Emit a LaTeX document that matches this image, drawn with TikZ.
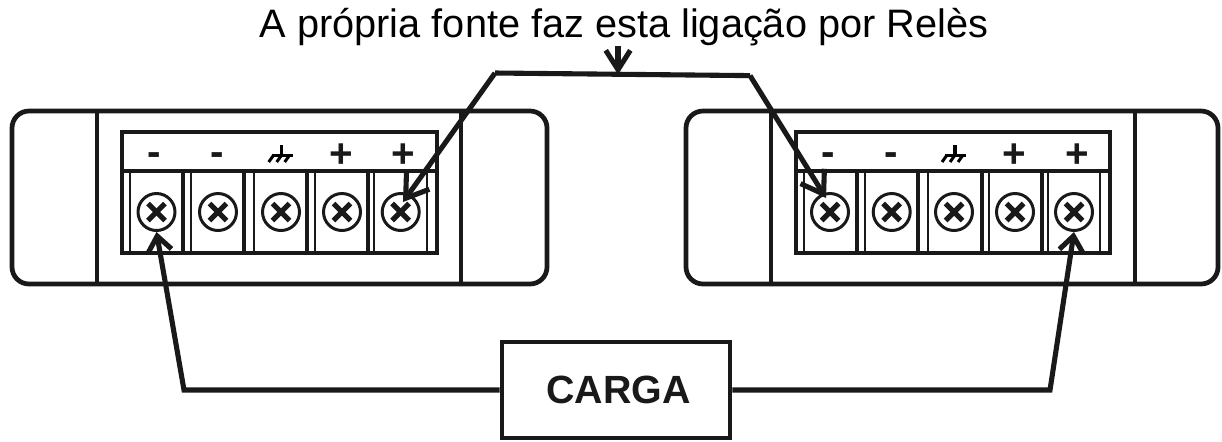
\documentclass[tikz,border=0pt]{standalone}
\usepackage{fontspec}
\setmainfont{Liberation Sans}
\usetikzlibrary{positioning,arrows.meta}

\begin{document}
\begin{tikzpicture}[
		x=0.02cm,y=-0.02cm,
		frame/.style={
			draw,
			line width=2.7pt,
			color=black!90
		},
		screw/.style={
			draw,
			circle,
			color=black!90,
			line width=1.7pt,
			minimum size=0.74cm,
			inner sep=0pt,
			path picture={
				\draw[line width=3pt] ([shift={(-8.5,-8.5)}]path picture bounding box.center) -- ([shift={(8.5,8.5)}]path picture bounding box.center);
				\draw[line width=3pt] ([shift={(-8.5,8.5)}]path picture bounding box.center) -- ([shift={(8.5,-8.5)}]path picture bounding box.center);
			}
		},
		sign/.style={
			inner sep=0pt,
			color=black!90,
			font=\fontsize{23}{23}\selectfont\bfseries
		},
		wire/.style={
			draw,
			line width=2.9pt,
			color=black!90,
			line join=miter
		},
		loadtip/.style={-{Straight Barb[length=8.6pt,width=13.5pt]}},
		relaytip/.style={-{Straight Barb[length=12pt,width=16pt]}},
		thickbar/.style={draw,line width=2pt,color=black!90},
		thinbar/.style={draw,line width=1.4pt,color=black!90},
		gnd/.pic={
			\draw[line width=2pt] (0,-10) -- (0,0);
			\draw[line width=1.7pt] (-10,0) -- (11,0);
			\foreach \t in {-8,0,8}
				\draw[line width=1.7pt] (\t,0) -- +(-5,7);
		}
		]
		
		\useasboundingbox (0,0) rectangle (1222,441);
		
		% left source
		\draw[frame,rounded corners=0.34cm] (12,111) rectangle (547,284);
		\draw[frame] (97,111) -- (97,284);
		\draw[frame] (461,111) -- (461,284);
		\foreach \x in {183,244,307,368}
			\draw[thickbar] (\x,171) -- (\x,253);
		\foreach \x in {130,191,254,315,374,427}
			\draw[thinbar] (\x,171) -- (\x,253);
		\draw[frame] (122,132) rectangle (437,253);
		\draw[frame] (122,171) -- (437,171);
		\foreach \x [count=\i] in {156.5,218,281,342,400.7}
			\node[screw] (la\i) at (\x,212) {};
		\foreach \x/\y/\s [count=\i] in {154/159/-,217/159/-,341/156/+,403/156/+}
			\node[sign] (ls\i) at (\x,\y) {\s};
		\path (281.7,155) pic {gnd};
		
		% right source
		\draw[frame,rounded corners=0.34cm] (686,111) rectangle (1218,284);
		\draw[frame] (771,111) -- (771,284);
		\draw[frame] (1135,111) -- (1135,284);
		\foreach \x in {857,918,982,1042}
			\draw[thickbar] (\x,171) -- (\x,253);
		\foreach \x in {804,865,928,989,1048,1100}
			\draw[thinbar] (\x,171) -- (\x,253);
		\draw[frame] (796,132) rectangle (1110,253);
		\draw[frame] (796,171) -- (1110,171);
		\foreach \x [count=\i] in {830,891.7,954,1015,1074}
			\node[screw] (ra\i) at (\x,212) {};
		\foreach \x/\y/\s [count=\i] in {828/159/-,891/159/-,1014/156/+,1077/156/+}
			\node[sign] (rs\i) at (\x,\y) {\s};
		\path (955,155) pic {gnd};
		
		\node[frame,minimum width=4.56cm,minimum height=1.92cm,inner sep=0pt] (carga) at (616,390)
			{\fontsize{22.4}{23}\selectfont\bfseries\hspace*{2.8pt}CARGA};
		\node[inner sep=0pt,font=\fontsize{22.6}{24}\selectfont] (rele) at (624,27) {A própria fonte faz esta ligação por Relès};
		
		\coordinate (cantoa) at (495,73);
		\coordinate (cantob) at (750,75.6);
		\coordinate (meio) at (618,74.4);
		
		\draw[wire,relaytip] (cantoa) -- ([shift={(2.3,-10)}]la5.center);
		\draw[wire,relaytip] (cantob) -- ([shift={(-4,-14)}]ra1.center);
		\draw[wire] (cantoa) -- (cantob);
		\draw[wire,-{Straight Barb[length=11pt,width=14pt]}] (meio |- rele.south) -- (meio);
		
		\draw[wire,loadtip] (carga.west) -- (184,390) -- (la1.south);
		\draw[wire,loadtip] (carga.east) -- (1050,390) -- (ra5.south);
		
\end{tikzpicture}
\end{document}
